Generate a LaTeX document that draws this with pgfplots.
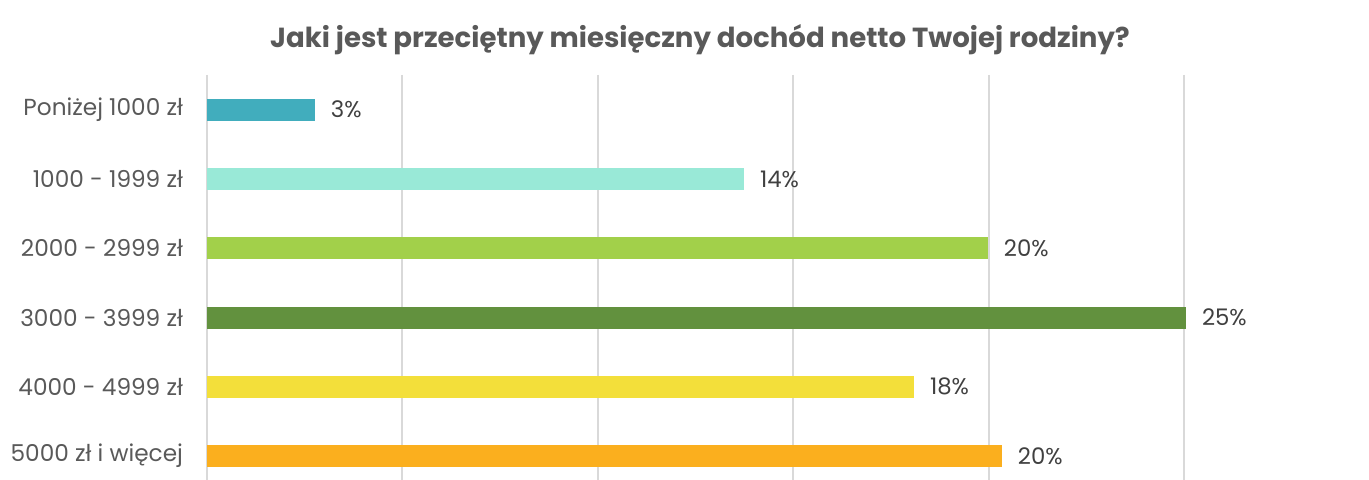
\documentclass[border=0pt]{standalone}
\usepackage{fontspec}
\setmainfont{Poppins}
\usepackage{pgfplots}
\pgfplotsset{compat=1.18}

\definecolor{teal1}{HTML}{41ADBD}
\definecolor{mint1}{HTML}{99E9D7}
\definecolor{lime1}{HTML}{A2D04A}
\definecolor{green1}{HTML}{62913E}
\definecolor{yellow1}{HTML}{F3DF3A}
\definecolor{orange1}{HTML}{FBAF1E}
\definecolor{gridgray}{HTML}{D9D9D9}
\definecolor{textgray}{HTML}{595959}
\definecolor{labelgray}{HTML}{404040}

\begin{document}
\begin{tikzpicture}
\useasboundingbox (0,0) rectangle (684.5pt,240pt);
\node[font=\bfseries\fontsize{13.8}{16}\selectfont, text=textgray] at (350pt,220pt)
  {Jaki jest przeciętny miesięczny dochód netto Twojej rodziny?};
\begin{axis}[
  at={(103.5pt,0pt)}, anchor=south west,
  scale only axis,
  width=488.5pt, height=202.5pt,
  xbar, bar width=11pt, bar shift=0pt,
  xmin=0, xmax=25,
  ymin=-0.5, ymax=5.345,
  y dir=reverse,
  xtick={0,5,...,25}, xticklabels={},
  ytick={0,...,5},
  yticklabels={Poniżej 1000 zł, 1000 - 1999 zł, 2000 - 2999 zł, 3000 - 3999 zł, 4000 - 4999 zł, 5000 zł i więcej},
  yticklabel style={font=\fontsize{11.6}{13}\selectfont, text=textgray, xshift=-8.5pt},
  xmajorgrids, major grid style={gridgray, line width=1pt},
  axis line style={draw=none},
  major tick length=0pt,
  clip=false,
  nodes near coords,
  point meta=explicit symbolic,
  every node near coord/.append style={font=\fontsize{11.4}{13}\selectfont, text=labelgray, anchor=west, xshift=4.5pt},
]
\addplot[fill=teal1, draw=none] coordinates {(2.76,0) [3\%]};
\addplot[fill=mint1, draw=none] coordinates {(13.74,1) [14\%]};
\addplot[fill=lime1, draw=none] coordinates {(19.98,2) [20\%]};
\addplot[fill=green1, draw=none] coordinates {(25.05,3) [25\%]};
\addplot[fill=yellow1, draw=none] coordinates {(18.09,4) [18\%]};
\addplot[fill=orange1, draw=none] coordinates {(20.34,5) [20\%]};
\end{axis}
\end{tikzpicture}
\end{document}
